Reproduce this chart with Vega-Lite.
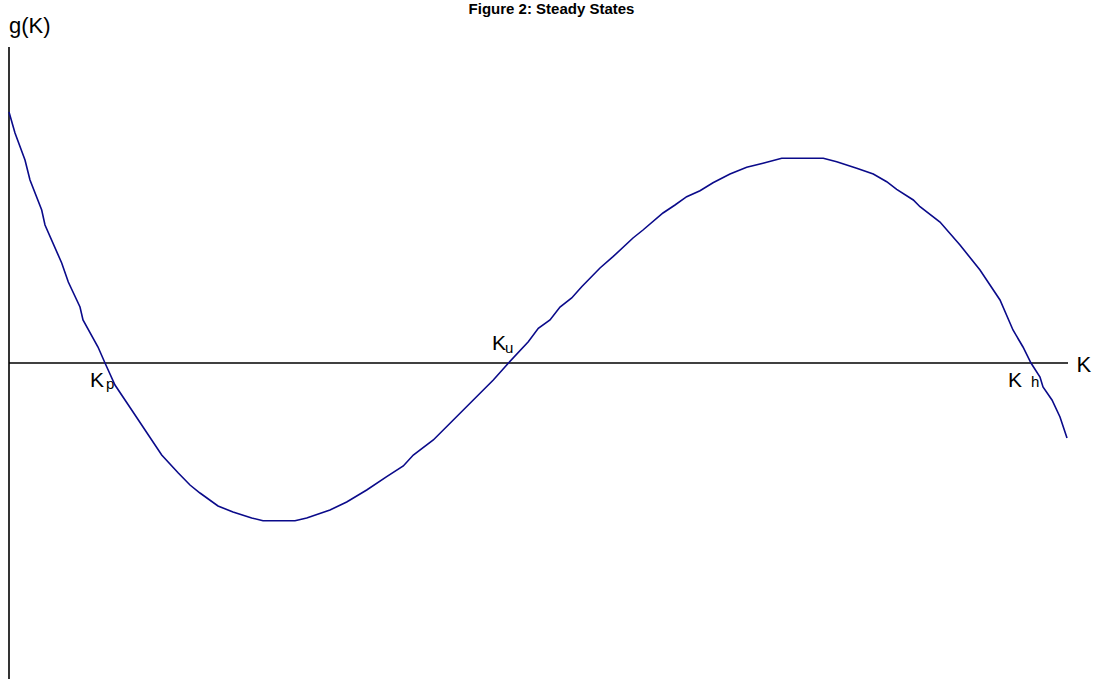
{
  "$schema": "https://vega.github.io/schema/vega-lite/v6.json",
  "width": 1103,
  "height": 680,
  "autosize": {"type": "none"},
  "padding": 0,
  "background": "white",
  "title": {"text": "Figure 2: Steady States", "fontSize": 15, "fontWeight": "bold", "font": "Liberation Sans", "anchor": "middle", "frame": "group", "offset": -29, "baseline": "alphabetic", "color": "black"},
  "config": {"view": {"stroke": null}},
  "datasets": {
    "curve": [
      {"K": 0, "g": 251}, {"K": 6, "g": 230}, {"K": 16, "g": 203}, {"K": 21, "g": 183},
      {"K": 32.7, "g": 153}, {"K": 36, "g": 138}, {"K": 52.7, "g": 100}, {"K": 59.3, "g": 81},
      {"K": 71, "g": 56}, {"K": 74, "g": 43}, {"K": 89, "g": 16}, {"K": 96, "g": 0},
      {"K": 106, "g": -22}, {"K": 122.7, "g": -47}, {"K": 132.7, "g": -62}, {"K": 152.7, "g": -92},
      {"K": 169.3, "g": -110}, {"K": 181, "g": -122}, {"K": 191, "g": -130}, {"K": 209, "g": -143},
      {"K": 224, "g": -149}, {"K": 242.7, "g": -155}, {"K": 254, "g": -157.7}, {"K": 286, "g": -157.7},
      {"K": 297.7, "g": -155}, {"K": 321, "g": -147}, {"K": 337.7, "g": -139}, {"K": 357.7, "g": -127},
      {"K": 377.7, "g": -113.7}, {"K": 394.3, "g": -103}, {"K": 404.3, "g": -92}, {"K": 424.3, "g": -77},
      {"K": 444.3, "g": -57}, {"K": 464.3, "g": -37}, {"K": 484.3, "g": -17}, {"K": 499.5, "g": 0},
      {"K": 519.3, "g": 21.3}, {"K": 529.3, "g": 34.7}, {"K": 541, "g": 43}, {"K": 551, "g": 56},
      {"K": 562.7, "g": 65}, {"K": 572.7, "g": 76.3}, {"K": 591, "g": 95}, {"K": 604, "g": 106.3},
      {"K": 624, "g": 125}, {"K": 634, "g": 133}, {"K": 654, "g": 150}, {"K": 666, "g": 158},
      {"K": 677.7, "g": 166.3}, {"K": 691, "g": 172.3}, {"K": 704, "g": 180.3}, {"K": 721, "g": 189},
      {"K": 737.7, "g": 195.7}, {"K": 754, "g": 199.7}, {"K": 772.7, "g": 204.7}, {"K": 814.3, "g": 204.7},
      {"K": 827.7, "g": 201.3}, {"K": 847.7, "g": 194.7}, {"K": 864.3, "g": 189}, {"K": 877.7, "g": 181.3},
      {"K": 887.7, "g": 173.7}, {"K": 904.3, "g": 163}, {"K": 911, "g": 156.3}, {"K": 931, "g": 141},
      {"K": 951, "g": 118}, {"K": 971, "g": 93}, {"K": 991, "g": 63}, {"K": 1004, "g": 33},
      {"K": 1014, "g": 16}, {"K": 1022, "g": 0}, {"K": 1031, "g": -14}, {"K": 1034, "g": -24},
      {"K": 1043, "g": -37}, {"K": 1051, "g": -54}, {"K": 1058, "g": -75}
    ],
    "axes": [
      {"K": 0, "g": 316, "K2": 0, "g2": -316},
      {"K": 0, "g": 0, "K2": 1059, "g2": 0}
    ],
    "labels": [
      {"K": 0, "g": 330, "text": "g(K)", "role": "axis"},
      {"K": 1067.5, "g": -9, "text": "K", "role": "axis"},
      {"K": 81, "g": -23.5, "text": "K", "role": "main"},
      {"K": 97, "g": -26, "text": "p", "role": "sub"},
      {"K": 483, "g": 13, "text": "K", "role": "main"},
      {"K": 496, "g": 10.3, "text": "u", "role": "sub"},
      {"K": 999, "g": -23.7, "text": "K", "role": "main"},
      {"K": 1022, "g": -24, "text": "h", "role": "sub"}
    ]
  },
  "encoding": {
    "x": {"field": "K", "type": "quantitative", "scale": {"domain": [-9, 1094], "nice": false, "zero": false}, "axis": null},
    "y": {"field": "g", "type": "quantitative", "scale": {"domain": [-317, 363], "nice": false, "zero": false}, "axis": null}
  },
  "layer": [
    {
      "data": {"name": "axes"},
      "mark": {"type": "rule", "color": "black", "strokeWidth": 1.6},
      "encoding": {"x2": {"field": "K2"}, "y2": {"field": "g2"}}
    },
    {
      "data": {"name": "curve"},
      "mark": {"type": "line", "color": "#0a0a8a", "strokeWidth": 1.6, "interpolate": "linear"},
      "encoding": {"order": {"field": "K", "type": "quantitative"}}
    },
    {
      "data": {"name": "labels"},
      "transform": [{"filter": "datum.role === 'axis'"}],
      "mark": {"type": "text", "align": "left", "baseline": "alphabetic", "font": "Liberation Sans", "fontSize": 22, "color": "black"},
      "encoding": {"text": {"field": "text"}}
    },
    {
      "data": {"name": "labels"},
      "transform": [{"filter": "datum.role === 'main'"}],
      "mark": {"type": "text", "align": "left", "baseline": "alphabetic", "font": "Liberation Sans", "fontSize": 21, "color": "black"},
      "encoding": {"text": {"field": "text"}}
    },
    {
      "data": {"name": "labels"},
      "transform": [{"filter": "datum.role === 'sub'"}],
      "mark": {"type": "text", "align": "left", "baseline": "alphabetic", "font": "Liberation Sans", "fontSize": 15, "color": "black"},
      "encoding": {"text": {"field": "text"}}
    }
  ]
}
